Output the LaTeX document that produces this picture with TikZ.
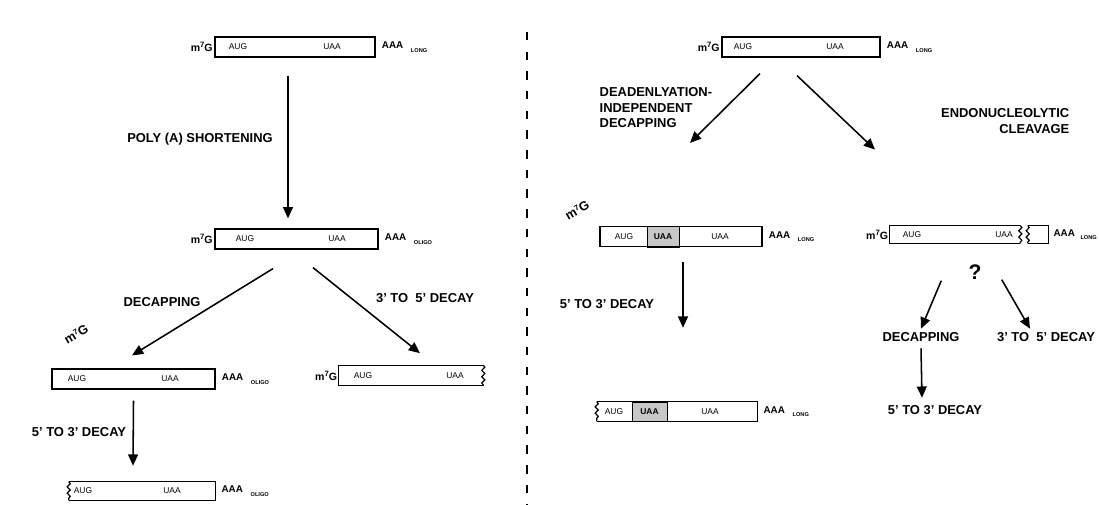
\documentclass[tikz,border=0pt]{standalone}
\usepackage{fontspec}
\setmainfont{Liberation Sans}
\usetikzlibrary{arrows.meta, positioning, calc, decorations.pathmorphing}

\tikzset{
  rna/.style={draw, line width=0.85pt, minimum height=0.5cm, inner sep=0pt},
  rnaline/.style={line width=0.85pt},
  wavy/.style={decorate, decoration={snake, amplitude=1.1pt, segment length=4.5pt}},
  codon/.style={font=\fontsize{6}{7}\selectfont, inner sep=0pt},
  capg/.style={font=\bfseries\fontsize{7.5}{8}\selectfont, inner sep=1pt, anchor=east},
  tail/.style={font=\bfseries\fontsize{7}{8}\selectfont, inner sep=0pt, anchor=west},
  steplbl/.style={font=\bfseries\fontsize{9.2}{11}\selectfont, inner sep=1pt},
  arr/.style={line width=1.1pt, -{Triangle[length=8pt,width=7pt]}},
  shade/.style={fill=black!22, draw, line width=0.6pt}
}
\newcommand{\polyA}[1]{AAA\hspace{5.5pt}\raisebox{-2.5pt}{\fontsize{4}{4}\selectfont #1}}
\newcommand{\capm}{m\raisebox{2.8pt}{\fontsize{5.5}{6}\selectfont 7}G}

\begin{document}
\begin{tikzpicture}[x=0.025cm, y=-0.025cm]
  \useasboundingbox (0,0) rectangle (1099,505);

  % Divider
  \draw[line width=1.3pt, dash pattern=on 6pt off 8pt] (527,32) -- (527,505);

  %% Left panel
  % Full length mRNA
  \node[rna, minimum width=4cm] (b1) at (295,47) {};
  \node[capg] (b1cap) at (b1.west) {\capm};
  \node[codon] (b1aug) at (238,47) {AUG};
  \node[codon] (b1uaa) at (332,47) {UAA};
  \node[tail] (b1tail) at ($(b1.east)+(6,0)$) {\polyA{LONG}};

  % Oligo-adenylated mRNA
  \node[rna, minimum width=4.075cm] (b2) at (296.5,239) {};
  \node[capg] (b2cap) at (b2.west) {\capm};
  \node[codon] (b2aug) at (245,239) {AUG};
  \node[codon] (b2uaa) at (337,239) {UAA};
  \node[tail] (b2tail) at ($(b2.east)+(6,0)$) {\polyA{OLIGO}};

  \draw[arr] ($(b1.south)+(-7,18)$) -- ($(b2.north)+(-8.5,-10)$);
  \node[steplbl] (polyA) at (200,139) {POLY (A) SHORTENING};

  % Decapped mRNA
  \node[rna, minimum width=4.075cm] (b3) at (133.5,379) {};
  \node[codon] (b3aug) at (77,379) {AUG};
  \node[codon] (b3uaa) at (170,379) {UAA};
  \node[tail] (b3tail) at ($(b3.east)+(6,0)$) {\polyA{OLIGO}};
  \node[font=\bfseries\fontsize{9}{10}\selectfont, rotate=30] (b3cap) at (76,334) {\capm};

  % 3' to 5' decay intermediate
  \node[minimum width=3.6cm, minimum height=0.5cm, inner sep=0pt] (b5) at (411,375.5) {};
  \draw[rnaline] (b5.north east) -- (b5.north west) -- (b5.south west) -- (b5.south east);
  \draw[rnaline, wavy] (b5.north east) -- (b5.south east);
  \node[capg] (b5cap) at (b5.west) {\capm};
  \node[codon] (b5aug) at (363,375.5) {AUG};
  \node[codon] (b5uaa) at (455,375.5) {UAA};

  \draw[arr] ($(b2.south)+(-23.5,19)$) -- ($(b3.north)+(-1.5,-13)$);
  \draw[arr] ($(b2.south)+(16.5,18)$) -- ($(b5.north)+(9,-12)$);
  \node[steplbl] (dec1) at (162,302) {DECAPPING};
  \node[steplbl] (d35a) at (425,298) {3' TO\ \ 5' DECAY};

  % 5' to 3' decay intermediate
  \node[minimum width=3.65cm, minimum height=0.45cm, inner sep=0pt] (b4) at (142,491) {};
  \draw[rnaline] (b4.north west) -- (b4.north east) -- (b4.south east) -- (b4.south west);
  \draw[rnaline, wavy] (b4.north west) -- (b4.south west);
  \node[codon] (b4aug) at (83,491) {AUG};
  \node[codon] (b4uaa) at (172,491) {UAA};
  \node[tail] (b4tail) at ($(b4.east)+(6,0)$) {\polyA{OLIGO}};

  \draw[arr] ($(b3.south)+(0,11)$) -- ($(b4.north)+(-9,-16)$);
  \node[steplbl] (d53a) at (79,432) {5' TO 3' DECAY};

  %% Right panel
  % Full length mRNA
  \node[rna, minimum width=3.95cm] (b6) at (801,47) {};
  \node[capg] (b6cap) at (b6.west) {\capm};
  \node[codon] (b6aug) at (743,47) {AUG};
  \node[codon] (b6uaa) at (835,47) {UAA};
  \node[tail] (b6tail) at ($(b6.east)+(6,0)$) {\polyA{LONG}};

  \node[steplbl, align=left, anchor=west] (indep) at (598,108)
    {DEADENLYATION-\\INDEPENDENT\\DECAPPING};
  \node[steplbl, align=right, anchor=east] (endo) at (1071,121)
    {ENDONUCLEOLYTIC\\CLEAVAGE\hspace{4pt}};

  % Decapped mRNA with premature stop
  \filldraw[shade] (647,226) rectangle (679,247);
  \node[rna, minimum width=4.05cm] (b7) at (681,236.5) {};
  \node[codon] (b7aug) at (624,236.5) {AUG};
  \node[codon, font=\bfseries\fontsize{6}{7}\selectfont] (b7stop) at (663,236.5) {UAA};
  \node[codon] (b7uaa) at (720,236.5) {UAA};
  \node[tail] (b7tail) at ($(b7.east)+(6,0)$) {\polyA{LONG}};
  \node[font=\bfseries\fontsize{9}{10}\selectfont, rotate=30] (b7cap) at (577,210) {\capm};

  % Cleaved mRNA
  \node[minimum width=3.25cm, minimum height=0.43cm, inner sep=0pt] (b9) at (955,234.5) {};
  \draw[rnaline] (b9.north east) -- (b9.north west) -- (b9.south west) -- (b9.south east);
  \draw[rnaline, wavy] (b9.north east) -- (b9.south east);
  \node[capg] (b9cap) at (b9.west) {\capm};
  \node[codon] (b9aug) at (912,234.5) {AUG};
  \node[codon] (b9uaa) at (1004,234.5) {UAA};
  \node[minimum width=0.5cm, minimum height=0.43cm, inner sep=0pt] (b10) at (1038,234.5) {};
  \draw[rnaline] (b10.north west) -- (b10.north east) -- (b10.south east) -- (b10.south west);
  \draw[rnaline, wavy] (b10.north west) -- (b10.south west);
  \node[tail] (b10tail) at ($(b10.east)+(5,0)$) {AAA\hspace{4pt}\raisebox{-2.5pt}{\fontsize{4}{4}\selectfont LONG}};

  \draw[arr] ($(b6.south)+(-41,16)$) -- ($(b7.north)+(9,-83)$);
  \draw[arr] ($(b6.south)+(-4,18)$) -- ($(b9.north)+(-80,-76)$);

  % 5' to 3' decay intermediate
  \filldraw[shade] (632,402) rectangle (667,421);
  \node[minimum width=4cm, minimum height=0.475cm, inner sep=0pt] (b8) at (677,411.5) {};
  \draw[rnaline] (b8.north west) -- (b8.north east) -- (b8.south east) -- (b8.south west);
  \draw[rnaline, wavy] (b8.north west) -- (b8.south west);
  \node[codon] (b8aug) at (614,411.5) {AUG};
  \node[codon, font=\bfseries\fontsize{6}{7}\selectfont] (b8stop) at (649.5,411.5) {UAA};
  \node[codon] (b8uaa) at (710,411.5) {UAA};
  \node[tail] (b8tail) at ($(b8.east)+(6,0)$) {\polyA{LONG}};

  \draw[arr] ($(b7.south)+(2,15)$) -- ($(b8.north)+(6,-74)$);
  \node[steplbl] (d53b) at (607,304) {5' TO 3' DECAY};

  % Fate of cleavage products
  \node[font=\bfseries\fontsize{15}{16}\selectfont, inner sep=0pt] (q) at (975,272) {?};
  \node[steplbl] (dec2) at (921,337) {DECAPPING};
  \node[steplbl] (d35b) at (1046,337) {3' TO\ \ 5' DECAY};
  \node[steplbl] (d53c) at (935,410) {5' TO 3' DECAY};
  \draw[arr] ($(q.south west)+(-27,1)$) -- ($(dec2.north)+(0,-2)$);
  \draw[arr] ($(q.south east)+(20,0)$) -- ($(d35b.north)+(-16,-2)$);
  \draw[arr] ($(dec2.south)+(0,5)$) -- ($(d53c.north)+(-13,-6)$);
\end{tikzpicture}
\end{document}
